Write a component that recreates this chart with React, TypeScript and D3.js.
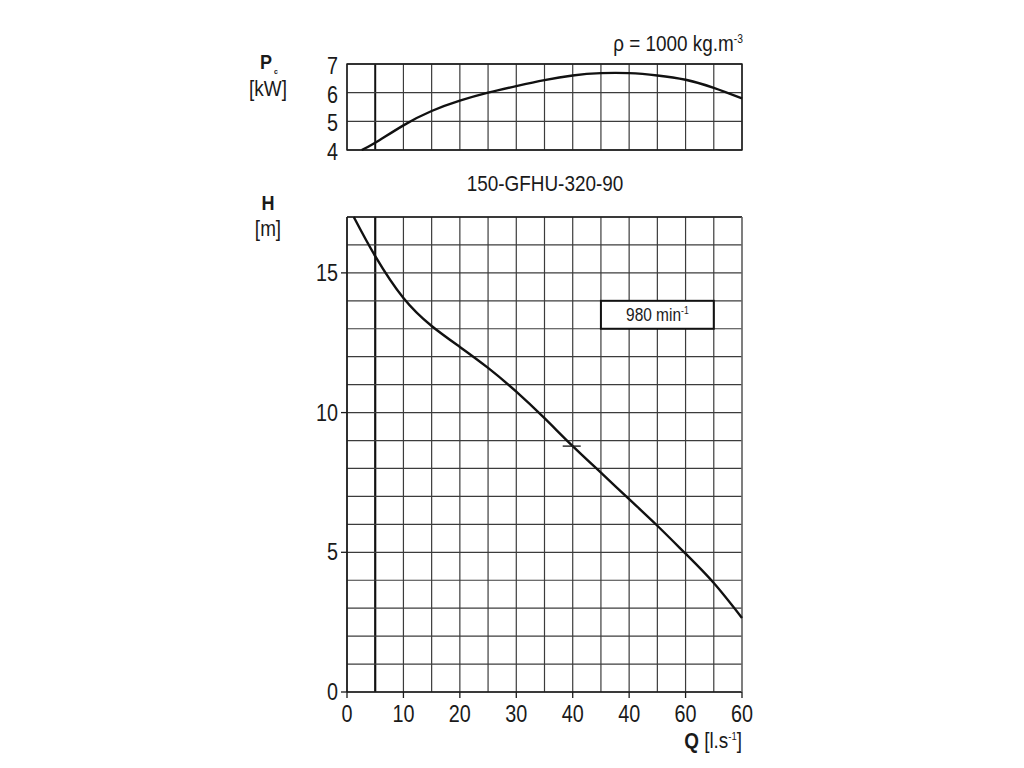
import React from 'react';
import * as d3 from 'd3';

// Q axis: grid every 5, ticks every 10 (labels as printed on the sheet)
const qGridLines = [0, 5, 10, 15, 20, 25, 30, 35, 40, 45, 50, 55, 60, 65, 70];
const qTicks = [0, 10, 20, 30, 40, 50, 60, 70];
const qTickLabels = ['0', '10', '20', '30', '40', '40', '60', '60'];

// H axis (bottom chart)
const hGridLines = [0, 1, 2, 3, 4, 5, 6, 7, 8, 9, 10, 11, 12, 13, 14, 15, 16, 17];
const hTicks = [0, 5, 10, 15];

// P axis (top chart)
const pGridLines = [4, 5, 6, 7];
const pTicks = [4, 5, 6, 7];

// pump curve H(Q)
const headQ = [1.2, 5, 10, 15, 20, 25, 30, 35, 40, 45, 50, 55, 60, 65, 70];
const headH = [17, 15.6, 14.1, 13.1, 12.35, 11.6, 10.75, 9.8, 8.8, 7.85, 6.9, 5.95, 4.95, 3.9, 2.65];

// shaft power P(Q)
const powerQ = [2.6, 5, 10, 15, 20, 25, 30, 35, 40, 45, 50, 55, 60, 65, 70];
const powerP = [4.0, 4.25, 4.86, 5.36, 5.72, 6.0, 6.23, 6.44, 6.6, 6.68, 6.68, 6.6, 6.45, 6.17, 5.8];

// duty point marker
const dutyQ = 40;
const dutyH = 8.8;

const FONT = "'Liberation Sans', Arial, Helvetica, sans-serif";
const INK = '#1a1a1a';
const SQUEEZE = 0.86; // the sheet uses a condensed grotesque

const T: React.FC<{
  x: number; y: number; anchor?: string; size: number; bold?: boolean; children: React.ReactNode;
}> = ({ x, y, anchor = 'start', size, bold, children }) => (
  <text
    transform={`translate(${x},${y}) scale(${SQUEEZE},1)`}
    textAnchor={anchor}
    fontSize={size}
    fontWeight={bold ? 'bold' : 'normal'}
    fill={INK}
  >
    {children}
  </text>
);

const App: React.FC = () => {
  const width = 1024;
  const height = 768;

  const left = 347;
  const right = 742;

  const x = d3.scaleLinear().domain([0, 70]).range([left, right]);
  const yH = d3.scaleLinear().domain([0, 17]).range([692, 217]);
  const yP = d3.scaleLinear().domain([4, 7]).range([150, 64]);

  const headLine = d3.line<number>()
    .x((_, i) => x(headQ[i]))
    .y(d => yH(d))
    .curve(d3.curveNatural);

  const powerLine = d3.line<number>()
    .x((_, i) => x(powerQ[i]))
    .y(d => yP(d))
    .curve(d3.curveNatural);

  const gridColor = '#3c3c3c';

  return (
    <svg
      width={width}
      height={height}
      style={{ position: 'absolute', left: 0, top: 0, background: '#fff' }}
      fontFamily={FONT}
    >
      <rect x={0} y={0} width={width} height={height} fill="#fff" />

      {/* ---------- top chart: power ---------- */}
      <g>
        {qGridLines.map(q => (
          <line
            key={'pv' + q}
            x1={x(q)} x2={x(q)} y1={yP(7)} y2={yP(4)}
            stroke={q === 5 ? '#111' : gridColor}
            strokeWidth={q === 5 ? 2 : 1.2}
          />
        ))}
        {pGridLines.map(p => (
          <line
            key={'ph' + p}
            x1={left} x2={right} y1={yP(p)} y2={yP(p)}
            stroke={gridColor}
            strokeWidth={1.3}
          />
        ))}
        <rect x={left} y={yP(7)} width={right - left} height={yP(4) - yP(7)} fill="none" stroke={INK} strokeWidth={1.4} />
        {pTicks.map(p => (
          <T key={'pt' + p} x={338} y={yP(p) + 10} anchor="end" size={23}>{p}</T>
        ))}
        <path d={powerLine(powerP) || ''} fill="none" stroke="#111" strokeWidth={2.4} />

        <T x={266} y={69} anchor="middle" size={21} bold>P</T>
        <T x={276} y={74} anchor="middle" size={8} bold>c</T>
        <T x={268} y={96} anchor="middle" size={22}>[kW]</T>

        <T x={743} y={51} anchor="end" size={22}>
          ρ = 1000 kg.m<tspan fontSize={12} dy={-8}>-3</tspan>
        </T>
      </g>

      {/* ---------- title ---------- */}
      <T x={545} y={191} anchor="middle" size={22}>150-GFHU-320-90</T>

      {/* ---------- bottom chart: head ---------- */}
      <g>
        {qGridLines.map(q => (
          <line
            key={'hv' + q}
            x1={x(q)} x2={x(q)} y1={yH(17)} y2={yH(0)}
            stroke={q === 5 ? '#111' : gridColor}
            strokeWidth={q === 5 ? 2.2 : 1.2}
          />
        ))}
        {hGridLines.map(h => (
          <line
            key={'hh' + h}
            x1={left} x2={right} y1={yH(h)} y2={yH(h)}
            stroke={gridColor}
            strokeWidth={1.2}
          />
        ))}
        <line x1={left} x2={left} y1={yH(17)} y2={yH(0)} stroke={INK} strokeWidth={1.6} />
        <line x1={left} x2={right} y1={yH(0)} y2={yH(0)} stroke={INK} strokeWidth={1.6} />
        <line x1={left} x2={right} y1={yH(17)} y2={yH(17)} stroke={INK} strokeWidth={1.4} />
        <line x1={right} x2={right} y1={yH(17)} y2={yH(0)} stroke="#777" strokeWidth={1.2} />

        {hTicks.map(h => (
          <g key={'ht' + h}>
            <line x1={left - 6} x2={left} y1={yH(h)} y2={yH(h)} stroke={INK} strokeWidth={1.3} />
            <T x={338} y={yH(h) + 8} anchor="end" size={23}>{h}</T>
          </g>
        ))}
        {qTicks.map((q, i) => (
          <g key={'qt' + q}>
            <line x1={x(q)} x2={x(q)} y1={yH(0)} y2={yH(0) + 6} stroke={INK} strokeWidth={1.3} />
            <T x={x(q)} y={722} anchor="middle" size={23}>{qTickLabels[i]}</T>
          </g>
        ))}

        {/* speed box */}
        <rect
          x={x(45)} y={yH(14)} width={x(65) - x(45)} height={yH(13) - yH(14)}
          fill="#fff" stroke="#111" strokeWidth={2}
        />
        <T x={(x(45) + x(65)) / 2} y={(yH(14) + yH(13)) / 2 + 6} anchor="middle" size={18}>
          980 min<tspan fontSize={10} dy={-7}>-1</tspan>
        </T>

        <path d={headLine(headH) || ''} fill="none" stroke="#111" strokeWidth={2.4} />
        <line x1={x(dutyQ) - 10} x2={x(dutyQ) + 8} y1={yH(dutyH)} y2={yH(dutyH)} stroke="#222" strokeWidth={1.4} />

        <T x={268} y={210} anchor="middle" size={21} bold>H</T>
        <T x={268} y={236} anchor="middle" size={22}>[m]</T>

        <T x={742} y={748} anchor="end" size={22}>
          <tspan fontWeight="bold">Q</tspan> [l.s<tspan fontSize={11} dy={-8}>-1</tspan><tspan dy={8}>]</tspan>
        </T>
      </g>
    </svg>
  );
};

export default App;
